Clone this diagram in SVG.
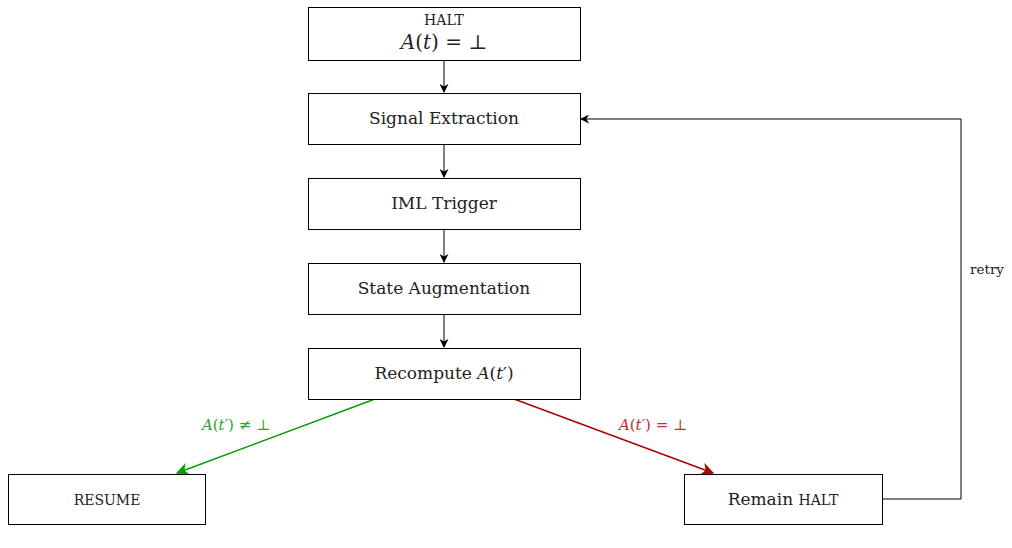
<svg xmlns="http://www.w3.org/2000/svg" width="1012" height="548" viewBox="0 0 1012 548">
<style>
.box{fill:#fff;stroke:#000;stroke-width:1}
.t{font-family:"DejaVu Serif","Liberation Serif",serif;font-size:17px;fill:#222;text-anchor:middle}
.sc{font-size:14px}
.i{font-style:italic}
.lbl{font-family:"DejaVu Serif","Liberation Serif",serif;font-size:15px;text-anchor:middle}
.c{fill:none;stroke:#000;stroke-width:1}
</style>
<defs>
<marker id="ab" viewBox="0 0 10 10" refX="9" refY="5" markerWidth="9" markerHeight="9" markerUnits="userSpaceOnUse" orient="auto"><path d="M0,0 L10,5 L0,10 L3,5 Z" fill="#000"/></marker>
<marker id="ag" viewBox="0 0 10 10" refX="9" refY="5" markerWidth="13" markerHeight="13" markerUnits="userSpaceOnUse" orient="auto"><path d="M0,0 L10,5 L0,10 L3,5 Z" fill="#0a9a0a"/></marker>
<marker id="ar" viewBox="0 0 10 10" refX="9" refY="5" markerWidth="13" markerHeight="13" markerUnits="userSpaceOnUse" orient="auto"><path d="M0,0 L10,5 L0,10 L3,5 Z" fill="#b00000"/></marker>
</defs>
<g id="connectors">
<line class="c" x1="444" y1="60" x2="444" y2="92" marker-end="url(#ab)"/>
<line class="c" x1="444" y1="144" x2="444" y2="177" marker-end="url(#ab)"/>
<line class="c" x1="444" y1="229" x2="444" y2="262" marker-end="url(#ab)"/>
<line class="c" x1="444" y1="314" x2="444" y2="347" marker-end="url(#ab)"/>
<polyline class="c" points="882,499 961,499 961,119 581,119" marker-end="url(#ab)"/>
<text class="lbl" x="987" y="274" fill="#222" style="font-size:13.5px">retry</text>
<line x1="375" y1="399" x2="177" y2="473" stroke="#0a9a0a" stroke-width="1.5" marker-end="url(#ag)"/>
<line x1="514" y1="399" x2="713" y2="473" stroke="#b00000" stroke-width="1.5" marker-end="url(#ar)"/>
<text class="lbl" x="236" y="430" fill="#2aa52a"><tspan class="i">A</tspan>(<tspan class="i">t</tspan>′) ≠ ⊥</text>
<text class="lbl" x="653" y="430" fill="#c03030"><tspan class="i">A</tspan>(<tspan class="i">t</tspan>′) = ⊥</text>
</g>
<g id="halt">
<rect class="box" x="308.5" y="7.5" width="272" height="53"/>
<text class="t sc" x="444" y="25">HALT</text>
<text class="t" x="444" y="49" style="font-size:20px"><tspan class="i">A</tspan>(<tspan class="i">t</tspan>) = ⊥</text>
</g>
<g id="signal">
<rect class="box" x="308.5" y="93.5" width="272" height="51"/>
<text class="t" x="444" y="124">Signal Extraction</text>
</g>
<g id="iml">
<rect class="box" x="308.5" y="178.5" width="272" height="51"/>
<text class="t" x="444" y="209">IML Trigger</text>
</g>
<g id="state">
<rect class="box" x="308.5" y="263.5" width="272" height="51"/>
<text class="t" x="444" y="294">State Augmentation</text>
</g>
<g id="recompute">
<rect class="box" x="308.5" y="348.5" width="272" height="51"/>
<text class="t" x="444" y="379">Recompute <tspan class="i">A</tspan>(<tspan class="i">t</tspan>′)</text>
</g>
<g id="resume">
<rect class="box" x="8.5" y="474.5" width="197" height="50"/>
<text class="t sc" x="107" y="505">RESUME</text>
</g>
<g id="remain">
<rect class="box" x="684.5" y="474.5" width="198" height="50"/>
<text class="t" x="783" y="505">Remain <tspan class="sc">HALT</tspan></text>
</g>
</svg>
